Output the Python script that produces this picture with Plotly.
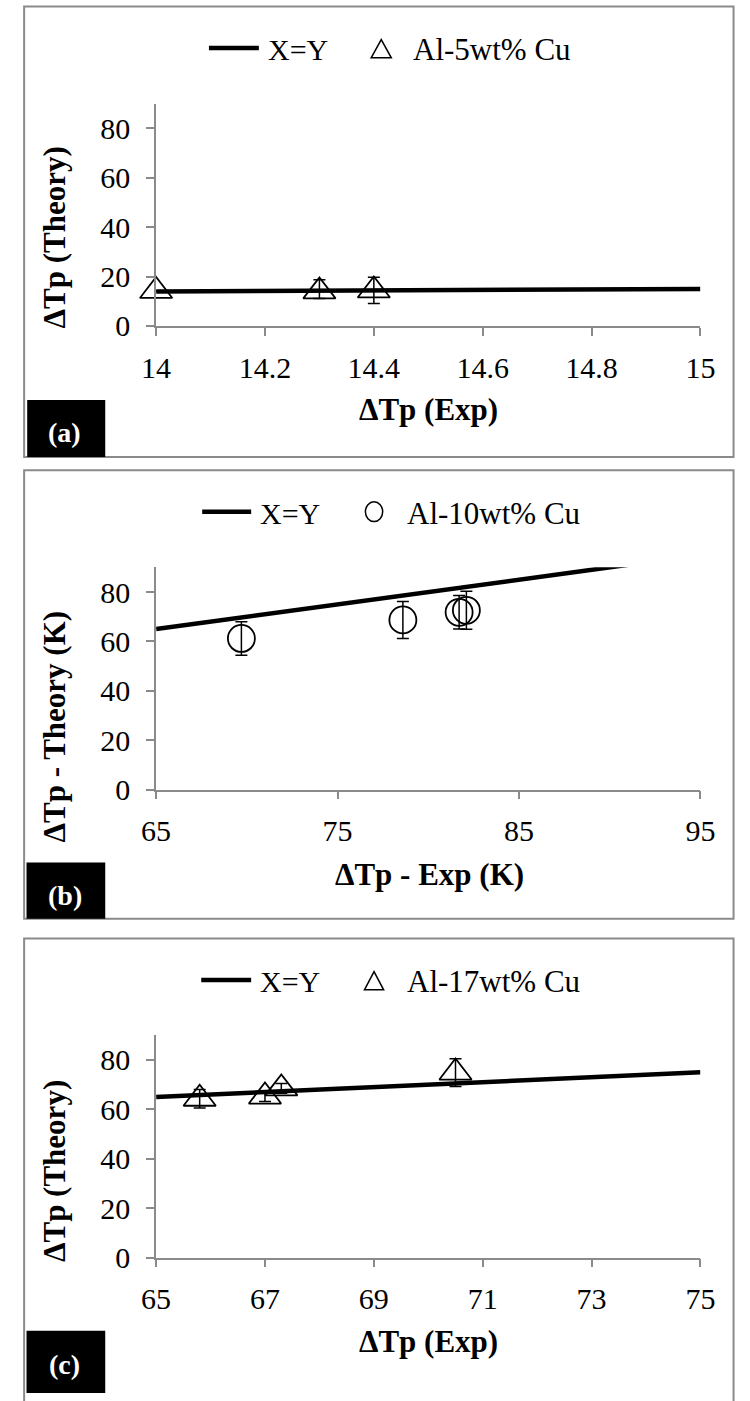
import plotly.graph_objects as go

# ---------------- data ----------------
# (a) Al-5wt% Cu
a_exp = [14.0, 14.3, 14.4]
a_theory = [14.2, 14.0, 14.4]
a_err_plus = [0.0, 4.7, 5.3]
a_err_minus = [0.0, 2.9, 5.3]

# (b) Al-10wt% Cu
b_exp = [69.7, 78.6, 81.7, 82.1]
b_theory = [61.2, 68.7, 71.8, 72.6]
b_err = [6.8, 7.5, 6.8, 7.7]

# (c) Al-17wt% Cu
c_exp = [65.8, 67.0, 67.3, 70.5]
c_theory = [64.3, 65.2, 68.5, 74.9]
c_err = [3.7, 2.0, 2.0, 5.6]

# X=Y reference lines
a_line = [14, 15]
b_line = [65, 95]
c_line = [65, 75]

# axis settings
a_xrange, a_dtick = [14, 15], 0.2
b_xrange, b_dtick = [65, 95], 10
c_xrange, c_dtick = [65, 75], 2
y_range, y_dtick = [0, 90], 20

series_names = ["Al-5wt% Cu", "Al-10wt% Cu", "Al-17wt% Cu"]
x_titles = ["ΔTp (Exp)", "ΔTp - Exp (K)", "ΔTp (Exp)"]
y_titles = ["ΔTp (Theory)", "ΔTp - Theory (K)", "ΔTp (Theory)"]
panel_tags = ["(a)", "(b)", "(c)"]

# ---------------- layout helpers ----------------
W, H = 750, 1401
FONT = "'Liberation Serif', 'Times New Roman', 'DejaVu Serif', serif"
AXIS_GREY = "#8a8a8a"


def px(x):
    return x / W


def py(y):
    return 1 - y / H


fig = go.Figure()

# plot-area pixel boxes: (top, bottom) for each panel
plot_rows = [(105, 330), (574.3, 799.3), (1048, 1273)]
x_left, x_right = 147, 714

xranges = [a_xrange, b_xrange, c_xrange]
dticks = [a_dtick, b_dtick, c_dtick]
lines = [a_line, b_line, c_line]
pts = [
    (a_exp, a_theory, dict(type="data", array=a_err_plus, arrayminus=a_err_minus, symmetric=False), "triangle-up-open", 28),
    (b_exp, b_theory, dict(type="data", array=b_err), "circle-open", 27),
    (c_exp, c_theory, dict(type="data", array=c_err), "triangle-up-open", 28),
]

for i in range(3):
    sfx = "" if i == 0 else str(i + 1)
    xa, ya = "x" + sfx, "y" + sfx
    top, bot = plot_rows[i]
    ln = lines[i]
    fig.add_trace(go.Scatter(
        x=ln, y=ln, mode="lines", name="X=Y", xaxis=xa, yaxis=ya,
        line=dict(color="black", width=4.5), showlegend=False, hoverinfo="skip",
    ))
    xs, ys, err, sym, size = pts[i]
    err.update(color="black", thickness=1.5, width=6)
    fig.add_trace(go.Scatter(
        x=xs, y=ys, mode="markers", name=series_names[i], xaxis=xa, yaxis=ya,
        marker=dict(symbol=sym, size=size, color="black", line=dict(color="black", width=1.8)),
        error_y=err, cliponaxis=False, showlegend=False,
    ))
    axis_common = dict(
        showline=True, linecolor=AXIS_GREY, linewidth=1.5, showgrid=False, zeroline=False,
        ticks="outside", ticklen=8, tickwidth=1.5, tickcolor=AXIS_GREY,
        tickfont=dict(family=FONT, size=30, color="black"),
    )
    fig.layout["xaxis" + sfx] = dict(
        domain=[px(x_left), px(x_right)], anchor=ya, range=xranges[i],
        tick0=xranges[i][0], dtick=dticks[i], ticklabelstandoff=6, **axis_common,
    )
    fig.layout["yaxis" + sfx] = dict(
        domain=[py(bot), py(top)], anchor=xa, range=y_range,
        tick0=0, dtick=y_dtick, ticklabelstandoff=10, **axis_common,
    )

# ---------------- decorations ----------------
shapes = []
annotations = []

# panel frames
frames = [(9.5, 6.7, 748.5, 462.5), (9.5, 476, 748.5, 930), (9.5, 950, 748.5, 1420)]
for x0, y0, x1, y1 in frames:
    shapes.append(dict(type="rect", xref="paper", yref="paper",
                       x0=px(x0), x1=px(x1), y0=py(y0), y1=py(y1),
                       line=dict(color=AXIS_GREY, width=2), fillcolor="rgba(0,0,0,0)", layer="below"))

# panel tags in black boxes
tag_boxes = [(12.7, 405, 94, 462.7), (12, 873, 94, 930), (12, 1347, 94, 1410)]
tag_centres = [(52, 438), (52, 906), (52, 1381)]
for (x0, y0, x1, y1), (cx, cy), tag in zip(tag_boxes, tag_centres, panel_tags):
    shapes.append(dict(type="rect", xref="paper", yref="paper",
                       x0=px(x0), x1=px(x1), y0=py(y0), y1=py(y1),
                       line=dict(width=0), fillcolor="black", layer="above"))
    annotations.append(dict(text="<b>%s</b>" % tag, x=px(cx), y=py(cy), xref="paper", yref="paper",
                            xanchor="center", yanchor="middle", showarrow=False,
                            font=dict(family=FONT, size=28, color="white")))

# axis titles
x_title_pos = [(431, 415), (432, 885), (431, 1358)]
y_title_pos = [(41, 240), (41, 735), (41, 1185)]
for i in range(3):
    annotations.append(dict(text="<b>%s</b>" % x_titles[i], x=px(x_title_pos[i][0]), y=py(x_title_pos[i][1]),
                            xref="paper", yref="paper", xanchor="center", yanchor="middle", showarrow=False,
                            font=dict(family=FONT, size=31, color="black")))
    annotations.append(dict(text="<b>%s</b>" % y_titles[i], x=px(y_title_pos[i][0]), y=py(y_title_pos[i][1]),
                            xref="paper", yref="paper", xanchor="center", yanchor="middle", showarrow=False,
                            textangle=-90, font=dict(family=FONT, size=31, color="black")))

# legends: line key, "X=Y", marker key, series name
legend_rows = [
    dict(y=48.5, line=(202, 254), xy_text=261, key=(371, 392), name_x=412, key_type="triangle"),
    dict(y=518, line=(195, 246), xy_text=253, key=(365, 383), name_x=406, key_type="circle"),
    dict(y=992, line=(194, 246), xy_text=253, key=(364, 384), name_x=406, key_type="triangle"),
]
for i, row in enumerate(legend_rows):
    yc = row["y"]
    shapes.append(dict(type="line", xref="paper", yref="paper",
                       x0=px(row["line"][0]), x1=px(row["line"][1]), y0=py(yc), y1=py(yc),
                       line=dict(color="black", width=4.5)))
    annotations.append(dict(text="X=Y", x=px(row["xy_text"]), y=py(yc + 1.5), xref="paper", yref="paper",
                            xanchor="left", yanchor="middle", showarrow=False,
                            font=dict(family=FONT, size=30, color="black")))
    annotations.append(dict(text=series_names[i], x=px(row["name_x"]), y=py(yc + 1.5), xref="paper", yref="paper",
                            xanchor="left", yanchor="middle", showarrow=False,
                            font=dict(family=FONT, size=31, color="black")))
    k0, k1 = row["key"]
    if row["key_type"] == "triangle":
        top_y, base_y = yc - 8.5, yc + 10
        path = "M %f %f L %f %f L %f %f Z" % (px(k0), py(base_y), px((k0 + k1) / 2), py(top_y), px(k1), py(base_y))
        shapes.append(dict(type="path", xref="paper", yref="paper", path=path,
                           line=dict(color="black", width=1.5), fillcolor="rgba(0,0,0,0)"))
    else:
        shapes.append(dict(type="circle", xref="paper", yref="paper",
                           x0=px(k0), x1=px(k1), y0=py(yc + 10), y1=py(yc - 10),
                           line=dict(color="black", width=1.5), fillcolor="rgba(0,0,0,0)"))

fig.update_layout(
    width=W, height=H, margin=dict(l=0, r=0, t=0, b=0),
    paper_bgcolor="white", plot_bgcolor="white",
    showlegend=False, shapes=shapes, annotations=annotations,
    font=dict(family=FONT, color="black"),
)

fig.write_html("out.html")
